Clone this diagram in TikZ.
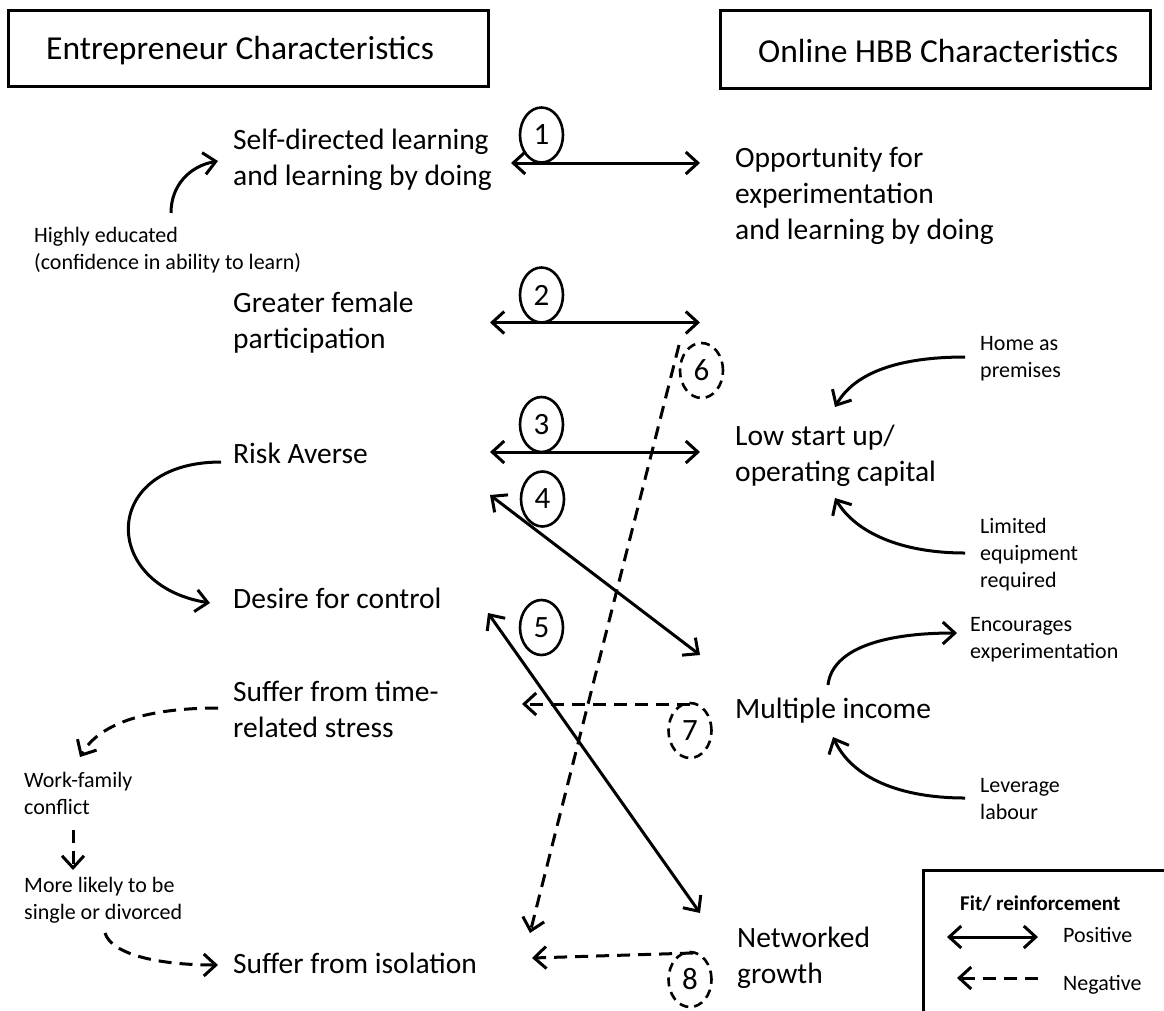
\documentclass[tikz,border=0pt]{standalone}
\usepackage{fontspec}
\setmainfont{Carlito}
\usetikzlibrary{arrows.meta,shapes.geometric}
\tikzset{
  bigtext/.style={font=\fontsize{29.5}{36}\selectfont, anchor=base west, inner sep=0pt, align=left},
  smalltext/.style={font=\fontsize{22}{27}\selectfont, anchor=base west, inner sep=0pt, align=left},
  titletext/.style={font=\fontsize{33.5}{40}\selectfont, anchor=base west, inner sep=0pt},
  titlebox/.style={draw, line width=3pt},
  numnode/.style={draw, ellipse, line width=2.6pt, minimum width=43pt, minimum height=55pt, inner sep=0pt, font=\fontsize{31}{34}\selectfont},
  dnumnode/.style={numnode, dash pattern=on 9pt off 6pt},
  posarrow/.style={line width=3pt, {Straight Barb[length=12pt,width=22pt]}-{Straight Barb[length=12pt,width=22pt]}},
  negarrow/.style={line width=3pt, dash pattern=on 13pt off 8pt, -{Straight Barb[length=12pt,width=22pt]}},
  onearrow/.style={line width=3pt, -{Straight Barb[length=12pt,width=22pt]}},
}
\begin{document}
\begin{tikzpicture}[x=1pt,y=-1pt]
\path[use as bounding box] (0,0) rectangle (1164,1010);

% title boxes
\draw[titlebox] (8,10) rectangle (488,86);
\node[titletext] (tl) at (46,59) {Entrepreneur Characteristics};
\draw[titlebox] (720,10) rectangle (1150,88);
\node[titletext] (tr) at (758,62) {Online HBB Characteristics};

% left column (anchor = baseline of last line)
\node[bigtext] (sdl) at (233,185) {Self-directed learning\\and learning by doing};
\node[smalltext] (he) at (34,269) {Highly educated\\(confidence in ability to learn)};
\node[bigtext] (gfp) at (233,348) {Greater female\\participation};
\node[bigtext] (ra) at (233,463) {Risk Averse};
\node[bigtext] (dfc) at (233,608) {Desire for control};
\node[bigtext] (sts) at (233,737) {Suffer from time-\\related stress};
\node[smalltext] (wfc) at (24,814) {Work-family\\conflict};
\node[smalltext] (ml) at (24,919) {More likely to be\\single or divorced};
\node[bigtext] (sfi) at (233,973) {Suffer from isolation};

% right column
\node[bigtext] (opp) at (735,239) {Opportunity for\\experimentation\\and learning by doing};
\node[bigtext] (low) at (735,481) {Low start up/\\operating capital};
\node[bigtext] (mi) at (735,718) {Multiple income};
\node[bigtext] (ng) at (737,983) {Networked\\growth};
\node[smalltext] (hap) at (980,377) {Home as\\premises};
\node[smalltext] (ler) at (980,587) {Limited\\equipment\\required};
\node[smalltext] (ee) at (970,658) {Encourages\\experimentation};
\node[smalltext] (ll) at (980,819) {Leverage\\labour};

% numbered ellipses
\node[numnode] (c1) at (541.5,135) {1};
\node[numnode] (c2) at (541.5,295) {2};
\node[numnode] (c3) at (541.5,424.5) {3};
\node[numnode] (c4) at (542.5,499) {4};
\node[numnode] (c5) at (541.5,627.5) {5};
\node[dnumnode] (c6) at (701.5,370.5) {6};
\node[dnumnode] (c7) at (690,730.5) {7};
\node[dnumnode] (c8) at (690,979.5) {8};

% connector end points
\coordinate (a1l) at (511,163);  \coordinate (a1r) at (700,163);
\coordinate (a2l) at (490,322.5);\coordinate (a2r) at (700,322.5);
\coordinate (a3l) at (490,452);  \coordinate (a3r) at (700,452);
\coordinate (a4l) at (490,495);  \coordinate (a4r) at (700,655);
\coordinate (a5l) at (488,613);  \coordinate (a5r) at (700,913);
\coordinate (a6s) at (679,345);  \coordinate (a6e) at (530,933);
\coordinate (a7s) at (690,704);  \coordinate (a7e) at (522,704);
\coordinate (a8s) at (693,953);  \coordinate (a8e) at (532,958);

\draw[posarrow] (a1l) -- (a1r);
\draw[posarrow] (a2l) -- (a2r);
\draw[posarrow] (a3l) -- (a3r);
\draw[posarrow] (a4l) -- (a4r);
\draw[posarrow] (a5l) -- (a5r);
\draw[negarrow] (a6s) -- (a6e);
\draw[negarrow] (a7s) -- (a7e);
\draw[negarrow] (a8s) -- (a8e);

% side arrows
\coordinate (he1) at (171,213); \coordinate (he2) at (218,161);
\draw[onearrow] (he1) .. controls (171,185) and (190,166) .. (he2);
\coordinate (ra1) at (221,462); \coordinate (ra2) at (210,603);
\draw[onearrow] (ra1) .. controls (100,462) and (100,585) .. (ra2);
\coordinate (st1) at (218,708); \coordinate (st2) at (80,757);
\draw[negarrow] (st1) .. controls (150,708) and (100,722) .. (st2);
\coordinate (wf1) at (73,830); \coordinate (wf2) at (73,870);
\draw[negarrow] (wf1) -- (wf2);
\coordinate (ml1) at (105,933); \coordinate (ml2) at (218,965);
\draw[negarrow] (ml1) .. controls (112,955) and (160,965) .. (ml2);
\coordinate (hp1) at (965,357); \coordinate (hp2) at (835,407);
\draw[onearrow] (hp1) .. controls (900,357) and (855,372) .. (hp2);
\coordinate (le1) at (965,553); \coordinate (le2) at (835,498);
\draw[onearrow] (le1) .. controls (900,553) and (855,532) .. (le2);
\coordinate (en1) at (828,685); \coordinate (en2) at (957,633);
\draw[onearrow] (en1) .. controls (832,650) and (880,633) .. (en2);
\coordinate (lv1) at (965,798); \coordinate (lv2) at (833,737);
\draw[onearrow] (lv1) .. controls (900,798) and (852,778) .. (lv2);

% legend
\begin{scope}
\clip (0,0) rectangle (1164,1010);
\draw[titlebox] (923,870) rectangle (1175,1020);
\end{scope}
\node[smalltext, font=\fontsize{21}{25}\selectfont\bfseries] (fit) at (960,910) {Fit/ reinforcement};
\coordinate (lp1) at (947,937); \coordinate (lp2) at (1038,937);
\draw[posarrow] (lp1) -- (lp2);
\node[smalltext] (lpos) at (1063,942) {Positive};
\coordinate (ln1) at (1038,978); \coordinate (ln2) at (957,978);
\draw[negarrow] (ln1) -- (ln2);
\node[smalltext] (lneg) at (1063,990) {Negative};
\end{tikzpicture}
\end{document}
